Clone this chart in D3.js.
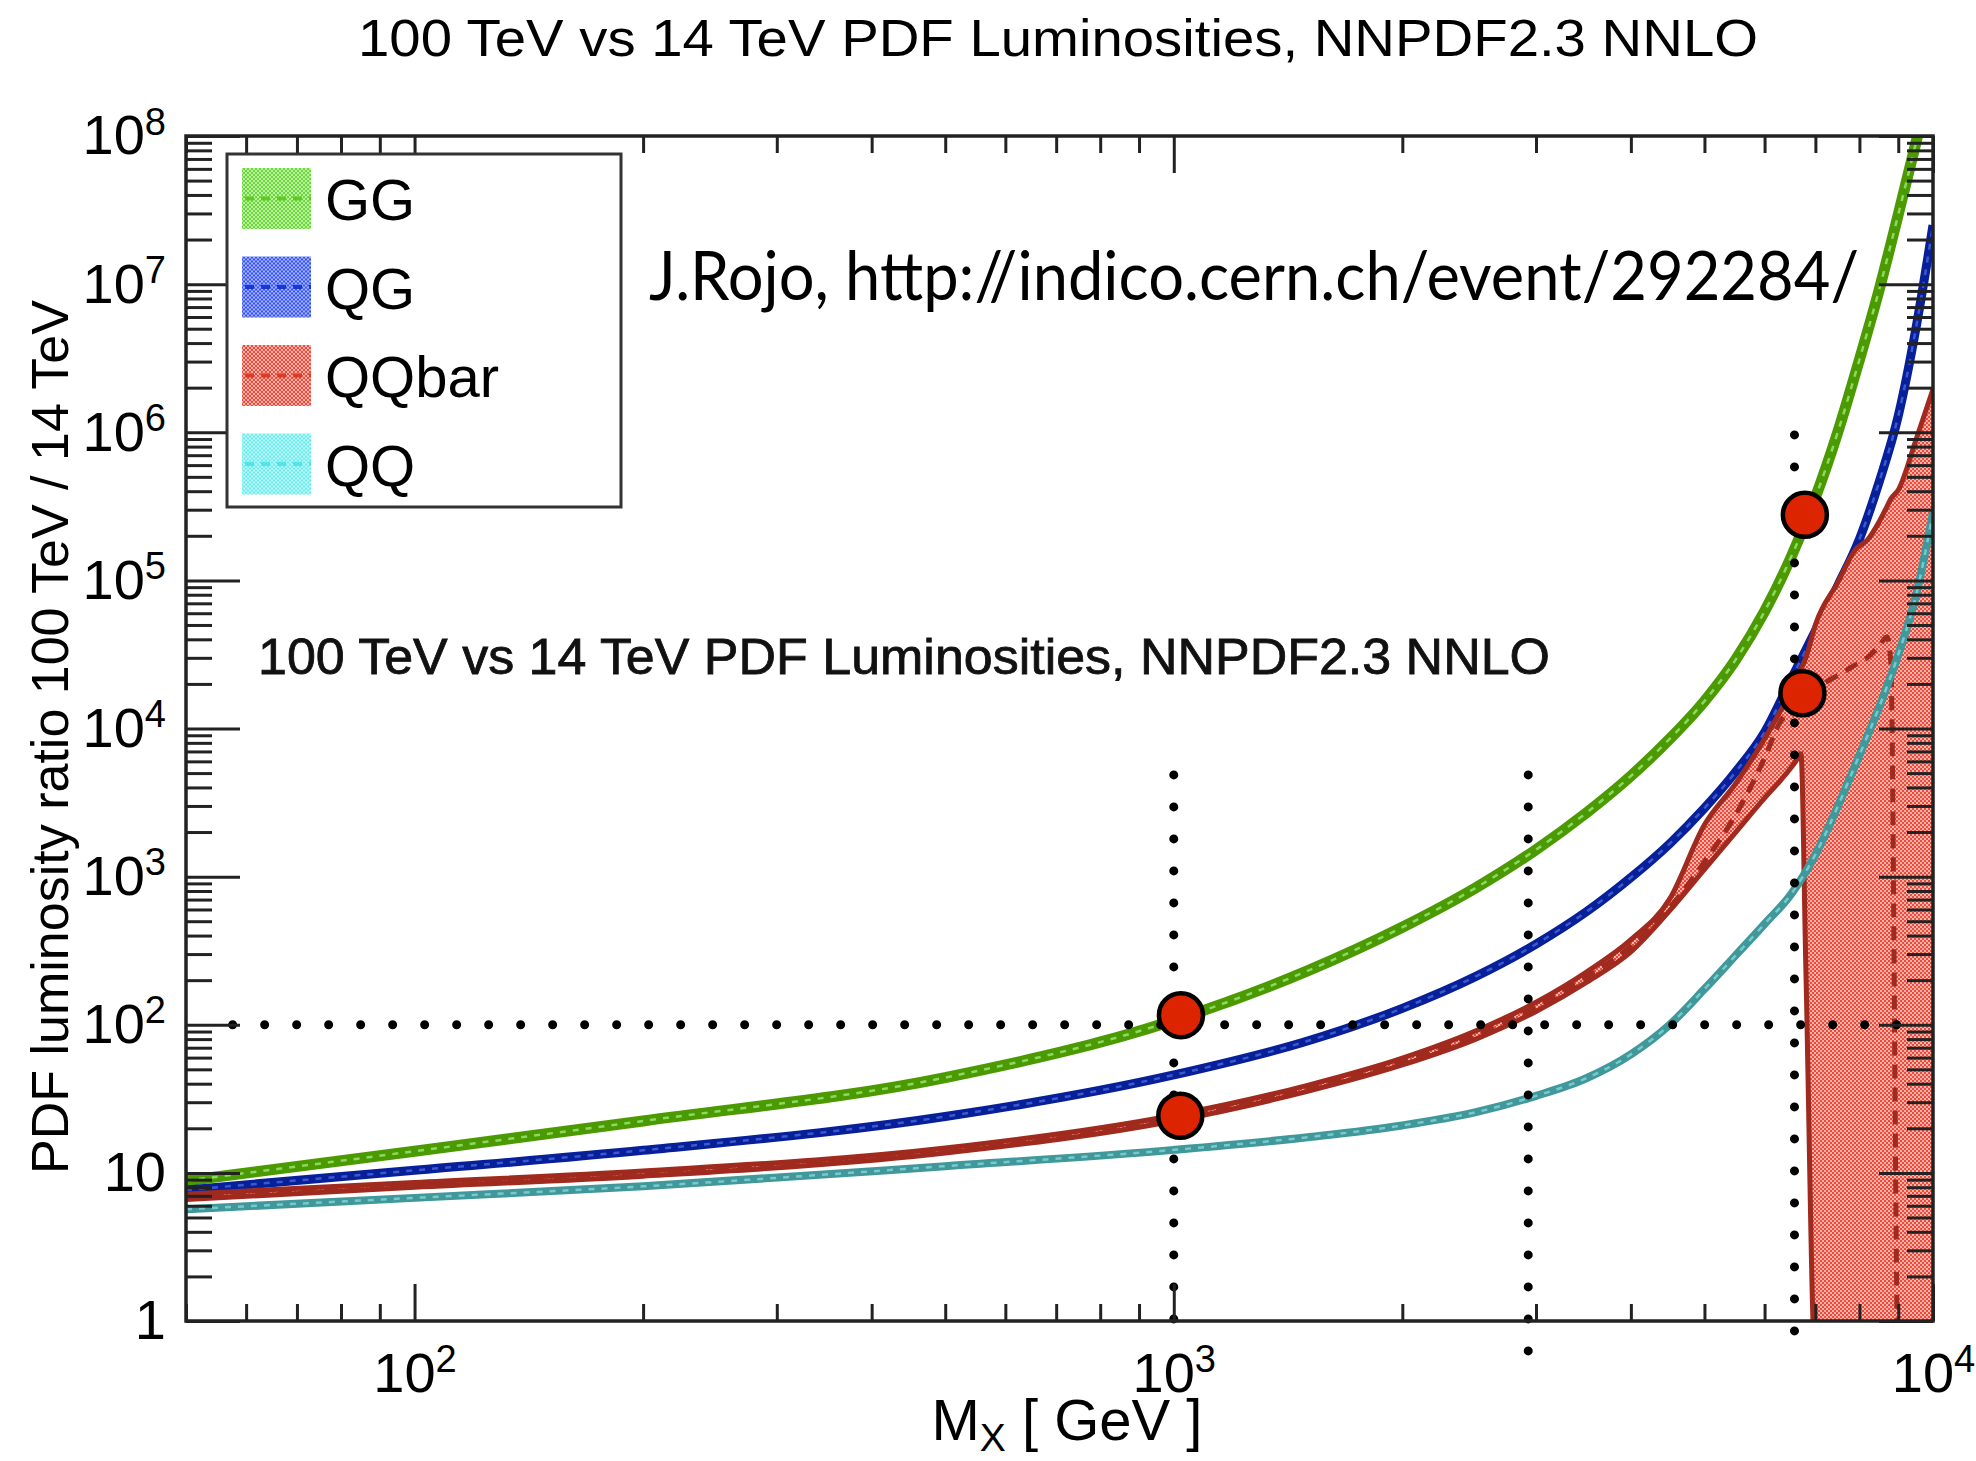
<!DOCTYPE html>
<html>
<head>
<meta charset="utf-8">
<script src="https://cdn.jsdelivr.net/npm/d3@7"></script>
<style>
  html, body { margin: 0; padding: 0; background: #fff; }
  svg { display: block; }
</style>
</head>
<body>
<div id="chart"></div>
<script>
// ---- values ----
const seriesNames = ['GG', 'QG', 'QQbar', 'QQ'];

// mass grid (GeV) shared by GG, QG and QQ
const massGrid = [50, 100, 200, 500, 1000, 1500, 2000, 2500, 3000, 3500, 4000, 4500, 5000,
                  5500, 6000, 6500, 7000, 7500, 8000, 8500, 9000, 9500, 10000];
const ggRatio = [8.85, 14.0, 22.4, 44.0, 107, 231, 455, 841, 1520, 2710, 4780, 8510, 15300,
                 29300, 61700, 143000, 363000, 1020000, 3090000, 9300000, 29500000, 91000000, 280000000];
const qgRatio = [7.67, 10.4, 14.2, 24.0, 45.8, 77.6, 129, 212, 350, 582, 986, 1670, 2900,
                 5120, 9440, 21400, 45700, 93300, 190000, 468000, 1290000, 5100000, 25000000];
const qqRatio = [5.68, 6.78, 8.11, 11.1, 14.3, 17.4, 20.9, 25.7, 33.1, 43.7, 63.1, 100, 174,
                 295, 479, 759, 1410, 3020, 6610, 14100, 31600, 79400, 288000];

// QQbar: central value and the edges of its uncertainty band
const qqbarMass = [50, 100, 200, 500, 1000, 1500, 2000, 2500, 3000, 3500, 4000, 4500, 5000, 5500,
                   6000, 6300, 6600, 6700, 6800, 7000, 7500, 7900, 8200, 8500, 8700, 8800, 9000, 9500, 10000];
const qqbarCentral = [6.9, 8.3, 9.9, 14.1, 23.4, 37.2, 56.5, 85.5, 132, 210, 339, 617, 1260, 2630,
                      6310, 11200, 14100, 15500, 16600, 18600, 22900, 26900, 30200, 36300, 41700, 27500, 0.5, 0.5, 0.5];
const qqbarUpper = [7.2, 8.6, 10.3, 14.7, 24.5, 39, 59.5, 91, 142, 228, 375, 708, 2240, 4270,
                    8510, 13200, 20900, 25100, 30000, 50100, 97700, 161000, 188000, 251000, 316000, 355000, 407000, 891000, 1950000];
const qqbarLower = [6.6, 8.0, 9.5, 13.6, 22.4, 35.5, 53.5, 80, 123, 194, 310, 589, 1120, 2000,
                    3390, 4470, 6030, 6760, 245, 0.5, 0.5, 0.5, 0.5, 0.5, 0.5, 0.5, 0.5, 0.5, 0.5];

// annotations: red markers, dotted guide lines
const markerMass = [1022, 1020, 6780, 6730];
const markerRatio = [116, 24.3, 277000, 17300];
const guideMass = [1000, 2930, 6570];
const guideTop = [4860, 4860, 960000];
const guideBottom = [1, 0.59, 0.83];
const guideLevel = 100;
const guideLevelRange = [57.6, 9130];

// axis ticks and labels
const xMajorTicks = [100, 1000, 10000];
const xTickLabels = ['10^2', '10^3', '10^4'];
const yMajorTicks = [1, 10, 1e2, 1e3, 1e4, 1e5, 1e6, 1e7, 1e8];
const yTickLabels = ['1', '10', '10^2', '10^3', '10^4', '10^5', '10^6', '10^7', '10^8'];

// ---- styles ----
const style = {
  GG:    { line: '#4c9a02', width: 11, centre: '#9ae878', light: '#b8f0a0', dark: '#6cd83c', swatchLine: '#5ccc22' },
  QG:    { line: '#07209a', width: 9,  centre: '#4a66dc', light: '#a8b4f8', dark: '#3050f0', swatchLine: '#1438e8' },
  QQbar: { line: '#a02a1e', width: 5,  centre: '#a02a1e', light: '#f8b4ac', dark: '#ee4a3a', swatchLine: '#e03a22' },
  QQ:    { line: '#40989a', width: 8,  centre: '#86d6d8', light: '#c4f8f8', dark: '#62ecec', swatchLine: '#52e4ee' }
};
const font = "'Liberation Sans', Arial, Helvetica, sans-serif";

const W = 1976, H = 1461;
const margin = { left: 186, right: 43, top: 136, bottom: 140 };
const plotW = W - margin.left - margin.right;   // 1747
const plotH = H - margin.top - margin.bottom;   // 1185

const svg = d3.select('#chart').append('svg')
    .attr('width', W)
    .attr('height', H)
    .style('background', '#fff');

const x = d3.scaleLog().domain([50, 10000]).range([margin.left, margin.left + plotW]);
const y = d3.scaleLog().domain([1, 1e8]).range([margin.top + plotH, margin.top]);

// checker patterns (ROOT-like fill style)
const defs = svg.append('defs');
seriesNames.forEach(name => {
  const p = defs.append('pattern')
      .attr('id', 'chk-' + name)
      .attr('patternUnits', 'userSpaceOnUse')
      .attr('width', 4).attr('height', 4);
  p.append('rect').attr('width', 4).attr('height', 4).attr('fill', style[name].light);
  p.append('rect').attr('width', 2).attr('height', 2).attr('fill', style[name].dark);
  p.append('rect').attr('x', 2).attr('y', 2).attr('width', 2).attr('height', 2).attr('fill', style[name].dark);
});
defs.append('clipPath').attr('id', 'plot-clip')
  .append('rect')
    .attr('x', margin.left).attr('y', margin.top)
    .attr('width', plotW).attr('height', plotH);

const plot = svg.append('g').attr('clip-path', 'url(#plot-clip)');

const line = d3.line()
    .x(d => x(d[0]))
    .y(d => y(d[1]))
    .curve(d3.curveMonotoneX);

const area = d3.area()
    .x(d => x(d[0]))
    .y0(d => y(d[1]))
    .y1(d => y(d[2]))
    .curve(d3.curveMonotoneX);

function drawCurve(name, masses, values) {
  const pts = masses.map((m, i) => [m, values[i]]);
  plot.append('path')
      .attr('d', line(pts))
      .attr('fill', 'none')
      .attr('stroke', style[name].line)
      .attr('stroke-width', style[name].width)
      .attr('stroke-linejoin', 'round');
  plot.append('path')
      .attr('d', line(pts))
      .attr('fill', 'none')
      .attr('stroke', style[name].centre)
      .attr('stroke-width', 2.5)
      .attr('stroke-dasharray', '6 7')
      .attr('opacity', 0.8);
}

drawCurve('GG', massGrid, ggRatio);
drawCurve('QG', massGrid, qgRatio);

// QQbar band
const band = qqbarMass.map((m, i) => [m, qqbarLower[i], qqbarUpper[i]]);
plot.append('path')
    .attr('d', area(band))
    .attr('fill', 'url(#chk-QQbar)')
    .attr('stroke', 'none');
[qqbarUpper, qqbarLower].forEach(edge => {
  plot.append('path')
      .attr('d', line(qqbarMass.map((m, i) => [m, edge[i]])))
      .attr('fill', 'none')
      .attr('stroke', style.QQbar.line)
      .attr('stroke-width', 5);
});
plot.append('path')
    .attr('d', line(qqbarMass.map((m, i) => [m, qqbarCentral[i]])))
    .attr('fill', 'none')
    .attr('stroke', style.QQbar.line)
    .attr('stroke-width', 5)
    .attr('stroke-dasharray', '14 9');

drawCurve('QQ', massGrid, qqRatio);

// dotted guide lines
const dotted = svg.append('g')
    .attr('fill', 'none')
    .attr('stroke', '#000')
    .attr('stroke-width', 9)
    .attr('stroke-linecap', 'round')
    .attr('stroke-dasharray', '0 32');
dotted.append('line')
    .attr('x1', x(guideLevelRange[0])).attr('x2', x(guideLevelRange[1]))
    .attr('y1', y(guideLevel)).attr('y2', y(guideLevel));
guideMass.forEach((m, i) => {
  dotted.append('line')
      .attr('x1', x(m)).attr('x2', x(m))
      .attr('y1', y(guideTop[i])).attr('y2', y(guideBottom[i]));
});

// red markers
svg.append('g').selectAll('circle')
  .data(markerMass)
  .join('circle')
    .attr('cx', d => x(d))
    .attr('cy', (d, i) => y(markerRatio[i]))
    .attr('r', 22)
    .attr('fill', '#dc2500')
    .attr('stroke', '#000')
    .attr('stroke-width', 4.5);

// ---- axes ----
function superscriptLabels(g, labels) {
  g.selectAll('.tick text').each(function(d, i) {
    const t = d3.select(this).text(null);
    const parts = labels[i].split('^');
    t.append('tspan').text(parts[0]);
    if (parts[1]) {
      t.append('tspan').attr('dy', '-0.52em').attr('font-size', '0.68em').text(parts[1]);
    }
  });
}
function tidy(g, width) {
  g.select('.domain').remove();
  g.attr('color', '#222');
  g.selectAll('.tick line').attr('stroke-width', width);
}

const yMinor = y.ticks().filter(v => !yMajorTicks.includes(v));
const xMinor = x.ticks().filter(v => !xMajorTicks.includes(v));
const bottomY = margin.top + plotH, rightX = margin.left + plotW;

svg.append('g').attr('transform', `translate(${margin.left},0)`)
    .call(d3.axisLeft(y).tickValues(yMinor).tickSize(-26).tickFormat(''))
    .call(tidy, 3);
svg.append('g').attr('transform', `translate(${rightX},0)`)
    .call(d3.axisRight(y).tickValues(yMinor).tickSize(-26).tickFormat(''))
    .call(tidy, 3);
svg.append('g').attr('transform', `translate(${rightX},0)`)
    .call(d3.axisRight(y).tickValues(yMajorTicks).tickSize(-54).tickFormat(''))
    .call(tidy, 3);
svg.append('g').attr('transform', `translate(${margin.left},0)`)
    .call(d3.axisLeft(y).tickValues(yMajorTicks).tickSize(-54).tickPadding(20))
    .call(tidy, 3)
    .call(g => g.selectAll('.tick text').attr('font-size', 56).attr('font-family', font).attr('fill', '#000'))
    .call(superscriptLabels, yTickLabels);

svg.append('g').attr('transform', `translate(0,${bottomY})`)
    .call(d3.axisBottom(x).tickValues(xMinor).tickSize(-17).tickFormat(''))
    .call(tidy, 3);
svg.append('g').attr('transform', `translate(0,${margin.top})`)
    .call(d3.axisTop(x).tickValues(xMinor).tickSize(-17).tickFormat(''))
    .call(tidy, 3);
svg.append('g').attr('transform', `translate(0,${margin.top})`)
    .call(d3.axisTop(x).tickValues(xMajorTicks).tickSize(-37).tickFormat(''))
    .call(tidy, 3);
svg.append('g').attr('transform', `translate(0,${bottomY})`)
    .call(d3.axisBottom(x).tickValues(xMajorTicks).tickSize(-37).tickPadding(31))
    .call(tidy, 3)
    .call(g => g.selectAll('.tick text').attr('font-size', 56).attr('font-family', font).attr('fill', '#000'))
    .call(superscriptLabels, xTickLabels);

// frame
svg.append('rect')
    .attr('x', margin.left).attr('y', margin.top)
    .attr('width', plotW).attr('height', plotH)
    .attr('fill', 'none')
    .attr('stroke', '#222')
    .attr('stroke-width', 3.5);

// ---- legend ----
const legend = svg.append('g').attr('transform', 'translate(227,154)');
legend.append('rect')
    .attr('width', 394).attr('height', 353)
    .attr('fill', '#fff')
    .attr('stroke', '#333')
    .attr('stroke-width', 3);
seriesNames.forEach((name, i) => {
  const row = legend.append('g').attr('transform', `translate(0,${14 + i * 88.5})`);
  row.append('rect')
      .attr('x', 15).attr('y', 0)
      .attr('width', 69).attr('height', 61)
      .attr('fill', `url(#chk-${name})`);
  row.append('line')
      .attr('x1', 18).attr('x2', 84)
      .attr('y1', 30.5).attr('y2', 30.5)
      .attr('stroke', style[name].swatchLine)
      .attr('stroke-width', 4)
      .attr('stroke-dasharray', '9 7');
  row.append('text')
      .attr('x', 98).attr('y', 52)
      .attr('font-family', font)
      .attr('font-size', 58)
      .attr('fill', '#000')
      .text(name);
});

// ---- titles and notes ----
svg.append('text')
    .attr('x', 1058).attr('y', 56)
    .attr('text-anchor', 'middle')
    .attr('font-family', font).attr('font-size', 52)
    .attr('textLength', 1400).attr('lengthAdjust', 'spacingAndGlyphs')
    .text('100 TeV vs 14 TeV PDF Luminosities, NNPDF2.3 NNLO');

svg.append('text')
    .attr('x', 258).attr('y', 674)
    .attr('font-family', font).attr('font-size', 50)
    .attr('fill', '#111')
    .attr('stroke', '#111').attr('stroke-width', 0.8)
    .attr('textLength', 1292).attr('lengthAdjust', 'spacingAndGlyphs')
    .text('100 TeV vs 14 TeV PDF Luminosities, NNPDF2.3 NNLO');

svg.append('text')
    .attr('x', 649).attr('y', 300)
    .attr('font-family', "Lato, 'Open Sans', sans-serif").attr('font-size', 68)
    .attr('fill', '#000')
    .attr('textLength', 1210).attr('lengthAdjust', 'spacingAndGlyphs')
    .text('J.Rojo, http://indico.cern.ch/event/292284/');

const xTitle = svg.append('text')
    .attr('x', 1067).attr('y', 1440)
    .attr('text-anchor', 'middle')
    .attr('font-family', font).attr('font-size', 58)
    .attr('fill', '#000');
xTitle.append('tspan').text('M');
xTitle.append('tspan').attr('font-size', 39).attr('dy', 11).text('X');
xTitle.append('tspan').attr('dy', -11).text(' [ GeV ]');

svg.append('text')
    .attr('transform', 'translate(68,737) rotate(-90)')
    .attr('text-anchor', 'middle')
    .attr('font-family', font).attr('font-size', 52)
    .attr('fill', '#000')
    .text('PDF luminosity ratio 100 TeV / 14 TeV');
</script>
</body>
</html>
